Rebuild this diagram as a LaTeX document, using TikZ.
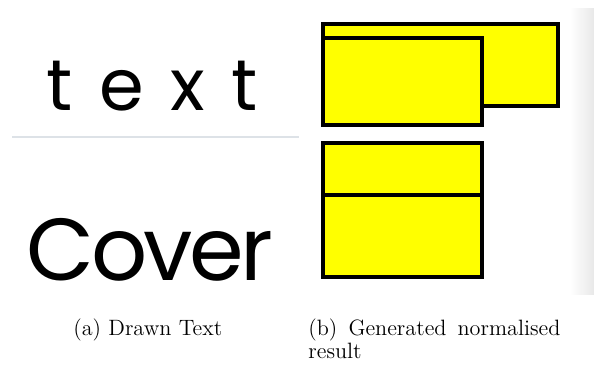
\documentclass[tikz,border=0pt]{standalone}
\usepackage{fontspec}
\newfontfamily\handfont{Poppins}
\definecolor{rulegrey}{HTML}{DDE2E7}
\definecolor{boxyellow}{HTML}{FFFF00}
\hyphenpenalty=10000

\begin{document}
\begin{tikzpicture}[x=0.5pt,y=-0.5pt,
 box/.style={draw=black,fill=boxyellow,line width=2pt},
 hand/.style={anchor=base,inner sep=0pt},
 subcap/.style={anchor=base west,inner sep=0pt,font=\fontsize{11.1}{11.4}\selectfont}]
\useasboundingbox (0,0) rectangle (594,367);
% drawn input
\node[hand,font=\handfont\fontsize{36}{40}\selectfont\addfontfeatures{LetterSpace=37}] (word1) at (152,111) {text};
\draw[rulegrey,line width=1pt] (12,137) -- (299,137);
\node[hand,font=\handfont\fontsize{44}{48}\selectfont\addfontfeatures{LetterSpace=-4}] (word2) at (150,281) {Cover};
\node[subcap] (capa) at (73,336) {(a) Drawn Text};

% normalised output
\shade[left color=white,right color=black!9] (570,9) rectangle (594,295);
\draw[box] (323,24) rectangle (558,106);
\draw[box] (323,38) rectangle (482,125);
\draw[box] (323,143) rectangle (482,195);
\draw[box] (323,195) rectangle (482,277);
\node[subcap,text width=126pt,align=justify] (capb) at (308,336) {\hyphenpenalty=10000 (b) Generated normalised result};
\end{tikzpicture}
\end{document}
